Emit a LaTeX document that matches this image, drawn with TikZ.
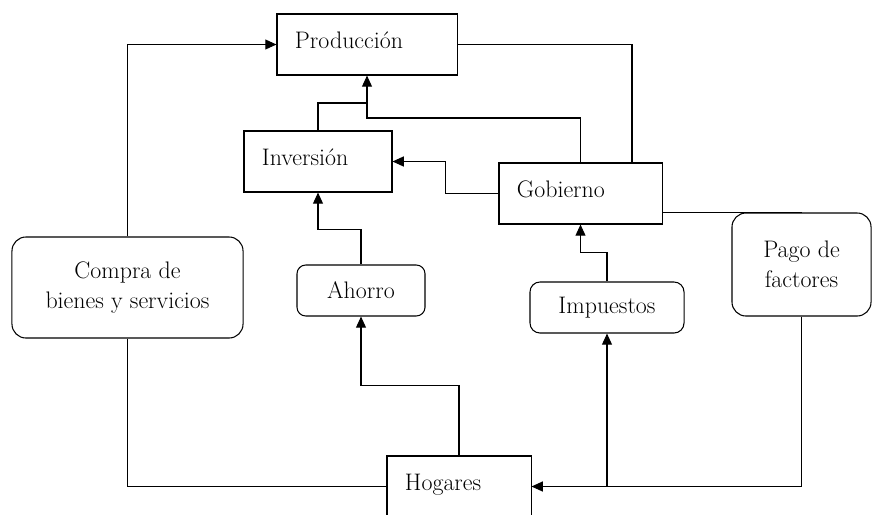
\documentclass[tikz,border=0pt]{standalone}
\usepackage{amsmath}
\usepackage{tikz}
\usetikzlibrary{arrows.meta}

\begin{document}
\begin{tikzpicture}[x=0.025cm,y=-0.025cm,line width=0.75pt,
  >={Triangle[length=0.28cm,width=0.25cm]},
  every node/.style={font=\fontsize{17}{21.5}\selectfont},
  caja/.style={draw,rectangle,align=left,inner xsep=0.45cm,inner ysep=0pt,text height=0.85cm,text depth=0.675cm},
  redonda/.style={draw,rectangle,rounded corners=0.35cm,align=center,inner sep=0pt}]
\useasboundingbox (0,0) rectangle (872,514);
\node[caja,text width=3.6cm] (prod) at (367,44.5) {Producción};
\node[caja,text width=2.8cm] (inv) at (318,161.5) {Inversión};
\node[caja,text width=3.175cm] (gob) at (580.5,193.5) {Gobierno};
\node[caja,text width=2.7cm] (hog) at (459,486.5) {Hogares};
\node[redonda,minimum width=5.775cm,minimum height=2.525cm] (compra) at (127.5,287.5) {Compra de\\bienes y servicios};
\node[redonda,rounded corners=0.22cm,minimum width=3.2cm,minimum height=1.275cm] (ahorro) at (361,290.5) {Ahorro};
\node[redonda,rounded corners=0.25cm,minimum width=3.85cm,minimum height=1.275cm] (imp) at (607,307.5) {Impuestos};
\node[redonda,minimum width=3.475cm,minimum height=2.575cm] (pago) at (801.5,264.5) {Pago de\\factores};
\coordinate (gobR) at (632,163);
\coordinate (j1) at (367,103);
\coordinate (j2) at (367,118);
\draw[->] (compra.north) |- (prod.west);
\draw (prod.east) -| (gobR);
\draw[->] (inv.north) |- (j1) -- (prod.south);
\draw (gob.north) |- (j2) -- (j1);
\draw[->] (gob.west) -- ++(-53,0) |- (inv.east);
\draw[->] (ahorro.north) -- ++(0,-35) -| (inv.south);
\draw[->] (imp.north) -- ++(0,-29) -| (gob.south);
\draw (gob.east |- pago.north) -- (pago.north);
\draw[->] (hog.north) -- ++(0,-70) -| (ahorro.south);
\draw (compra.south) |- (hog.west);
\draw[->] (pago.south) |- (hog.east);
\draw[->] (imp.south |- hog.east) -- (imp.south);
\end{tikzpicture}
\end{document}
